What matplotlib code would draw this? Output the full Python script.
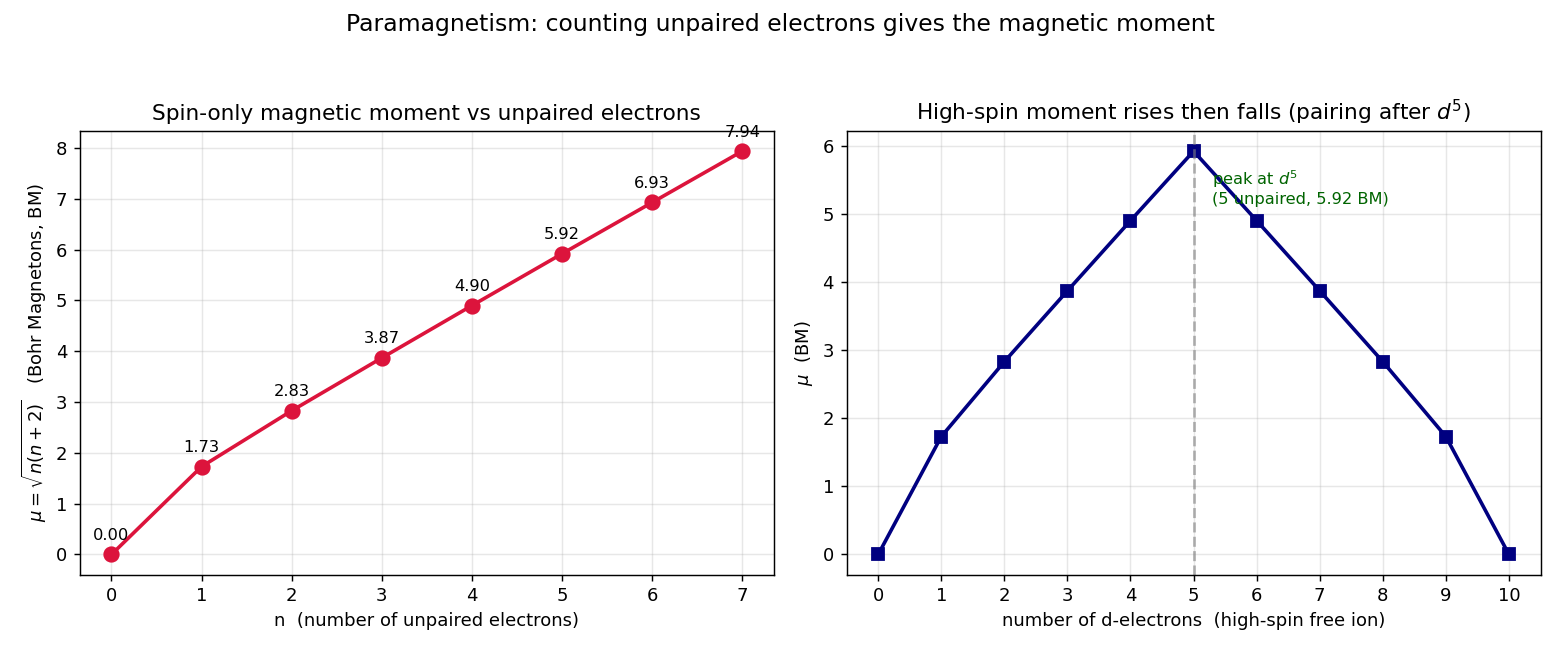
import numpy as np
import matplotlib
matplotlib.use("Agg")
import matplotlib.pyplot as plt

# data
n_unpaired = [0, 1, 2, 3, 4, 5, 6, 7]
mu_spin = [0.00, 1.73, 2.83, 3.87, 4.90, 5.92, 6.93, 7.94]
d_electrons = [0, 1, 2, 3, 4, 5, 6, 7, 8, 9, 10]
mu_high = [0.00, 1.73, 2.83, 3.87, 4.90, 5.92, 4.90, 3.87, 2.83, 1.73, 0.00]

fig, (ax1, ax2) = plt.subplots(1, 2, figsize=(12, 5), dpi=130)

ax1.plot(n_unpaired, mu_spin, "-o", color="crimson", lw=2, ms=8)
for x, y in zip(n_unpaired, mu_spin):
    ax1.annotate(f"{y:.2f}", (x, y), textcoords="offset points", xytext=(0, 8),
                 ha="center", fontsize=9)
ax1.set_title("Spin-only magnetic moment vs unpaired electrons")
ax1.set_xlabel("n  (number of unpaired electrons)")
ax1.set_ylabel(r"$\mu = \sqrt{n(n+2)}$   (Bohr Magnetons, BM)")
ax1.set_xticks(n_unpaired)
ax1.grid(alpha=0.3)

ax2.plot(d_electrons, mu_high, "-s", color="navy", lw=2, ms=7)
ax2.axvline(5, color="gray", ls="--", alpha=0.6)
ax2.text(5.3, 5.1, "peak at $d^5$\n(5 unpaired, 5.92 BM)", color="darkgreen",
         fontsize=9, va="bottom")
ax2.set_title("High-spin moment rises then falls (pairing after $d^5$)")
ax2.set_xlabel("number of d-electrons  (high-spin free ion)")
ax2.set_ylabel(r"$\mu$  (BM)")
ax2.set_xticks(d_electrons)
ax2.grid(alpha=0.3)

fig.suptitle("Paramagnetism: counting unpaired electrons gives the magnetic moment", fontsize=13)
fig.tight_layout(rect=[0, 0, 1, 0.945])
fig.savefig("out.png")
